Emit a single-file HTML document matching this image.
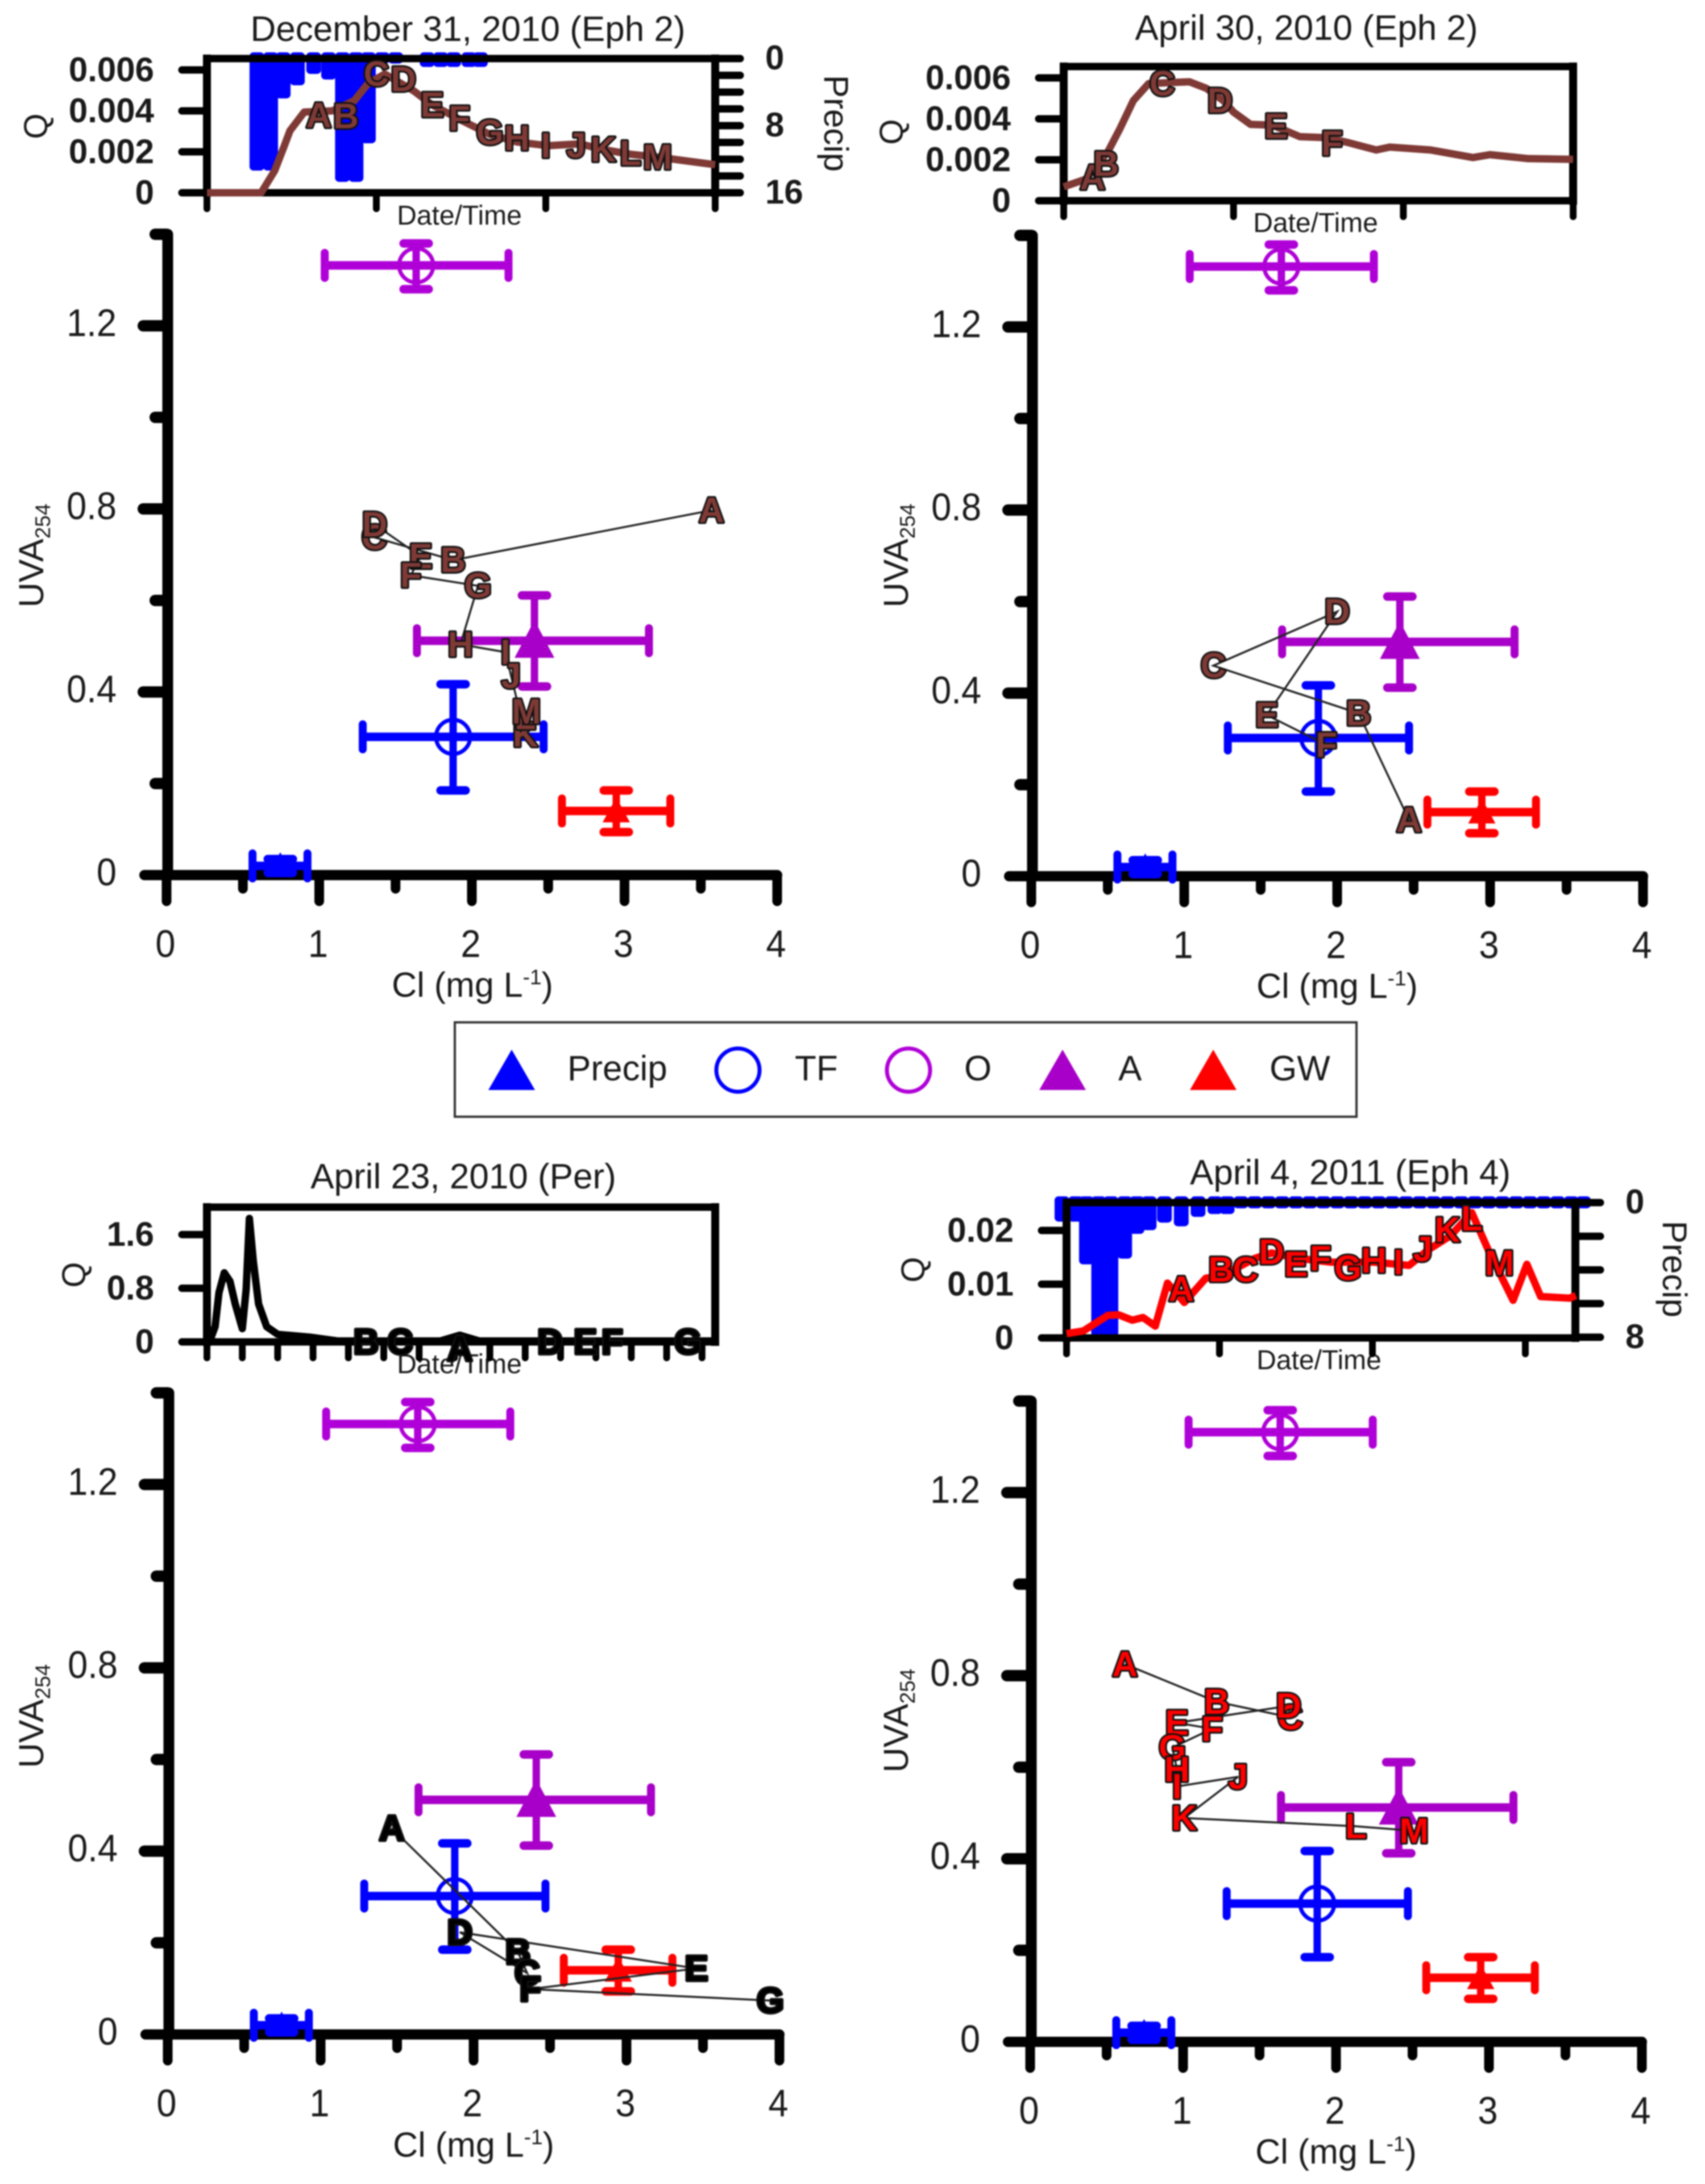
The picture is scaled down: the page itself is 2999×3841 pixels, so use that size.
<!DOCTYPE html>
<html lang="en">
<head>
<meta charset="utf-8">
<title>UVA254 vs Cl hysteresis panels</title>
<style>
html,body{margin:0;padding:0;background:#fff;}
svg{display:block;filter:blur(1.3px);}
text{font-family:"Liberation Sans",sans-serif;fill:#1a1a1a;}
</style>
</head>
<body>
<svg id="chart" xmlns="http://www.w3.org/2000/svg" width="2999" height="3841" viewBox="0 0 2999 3841">
<rect x="0" y="0" width="2999" height="3841" fill="#fff"/>

<text x="823" y="72" font-size="62" text-anchor="middle">December 31, 2010 (Eph 2)</text>
<text x="2298" y="70" font-size="62" text-anchor="middle">April 30, 2010 (Eph 2)</text>
<text x="815" y="2090" font-size="62" text-anchor="middle">April 23, 2010 (Per)</text>
<text x="2375" y="2083" font-size="62" text-anchor="middle">April 4, 2011 (Eph 4)</text>

<text x="808" y="395" font-size="48" text-anchor="middle">Date/Time</text>
<text x="2314" y="408" font-size="48" text-anchor="middle">Date/Time</text>
<text x="808" y="2415" font-size="48" text-anchor="middle">Date/Time</text>
<text x="2320" y="2408" font-size="48" text-anchor="middle">Date/Time</text>

<text transform="translate(83 222) rotate(-90)" font-size="58" text-anchor="middle">Q</text>
<text transform="translate(1588 232) rotate(-90)" font-size="58" text-anchor="middle">Q</text>
<text transform="translate(150 2242) rotate(-90)" font-size="58" text-anchor="middle">Q</text>
<text transform="translate(1626 2233) rotate(-90)" font-size="58" text-anchor="middle">Q</text>

<text transform="translate(1450 217) rotate(90)" font-size="60" text-anchor="middle">Precip</text>
<text transform="translate(2925 2232) rotate(90)" font-size="60" text-anchor="middle">Precip</text>

<text transform="translate(76 977) rotate(-90)" font-size="61" text-anchor="middle">UVA<tspan font-size="37" dy="12">254</tspan></text>
<text transform="translate(1597 977) rotate(-90)" font-size="61" text-anchor="middle">UVA<tspan font-size="37" dy="12">254</tspan></text>
<text transform="translate(76 3018) rotate(-90)" font-size="61" text-anchor="middle">UVA<tspan font-size="37" dy="12">254</tspan></text>
<text transform="translate(1597 3026) rotate(-90)" font-size="61" text-anchor="middle">UVA<tspan font-size="37" dy="12">254</tspan></text>

<text x="831" y="1753" font-size="61" text-anchor="middle">Cl (mg L<tspan font-size="37" dy="-22">-1</tspan><tspan dy="22">)</tspan></text>
<text x="2352" y="1755" font-size="61" text-anchor="middle">Cl (mg L<tspan font-size="37" dy="-22">-1</tspan><tspan dy="22">)</tspan></text>
<text x="833" y="3793" font-size="61" text-anchor="middle">Cl (mg L<tspan font-size="37" dy="-22">-1</tspan><tspan dy="22">)</tspan></text>
<text x="2350" y="3805" font-size="61" text-anchor="middle">Cl (mg L<tspan font-size="37" dy="-22">-1</tspan><tspan dy="22">)</tspan></text>

<g>
  <rect x="800" y="1798" width="1586" height="166" fill="#fff" stroke="#333" stroke-width="4"/>
  <polygon points="900,1846 941,1917 859,1917" fill="#0000ff"/>
  <text x="998" y="1900" font-size="62">Precip</text>
  <circle cx="1298" cy="1882" r="38" fill="none" stroke="#0000ff" stroke-width="7"/>
  <text x="1398" y="1900" font-size="62">TF</text>
  <circle cx="1598" cy="1882" r="38" fill="none" stroke="#b000d8" stroke-width="7"/>
  <text x="1696" y="1900" font-size="62">O</text>
  <polygon points="1869,1846 1910,1917 1828,1917" fill="#a800c8"/>
  <text x="1967" y="1900" font-size="62">A</text>
  <polygon points="2134,1846 2175,1917 2093,1917" fill="#ff0000"/>
  <text x="2233" y="1900" font-size="62">GW</text>
</g>
<g id="plots"></g>
</svg>

<script>
// End-member data (shared by all scatter panels)
const endNames   = ['precip','tf','o','a','gw'];
const endX       = [0.745, 1.877, 1.635, 2.41, 2.946];
const endXLow    = [0.563, 1.285, 1.036, 1.64, 2.59];
const endXHigh   = [0.923, 2.47, 2.24, 3.16, 3.30];
const endY       = [0.02, 0.302, 1.332, 0.512, 0.14];
const endYLow    = [0.005, 0.185, 1.28, 0.412, 0.094];
const endYHigh   = [0.035, 0.417, 1.38, 0.611, 0.185];

// Axis ticks of the scatter panels
const mainXMajor = [0,1,2,3,4];
const mainXMinor = [0.5,1.5,2.5,3.5];
const mainYMajor = [0,0.4,0.8,1.2];
const mainYMinor = [0.2,0.6,1.0,1.4];
const mainYLabels = ['0','0.4','0.8','1.2'];

// Trajectories (Cl, UVA254)
const letters = ['A','B','C','D','E','F','G','H','I','J','K','L','M'];
const tlCl  = [3.57,1.877,1.36,1.363,1.665,1.60,2.04,1.925,2.22,2.257,2.35,2.35,2.357];
const tlUva = [0.797,0.688,0.738,0.766,0.696,0.655,0.632,0.504,0.487,0.435,0.307,0.345,0.357];
const trCl  = [2.47,2.14,1.19,2.0,1.54,1.93];
const trUva = [0.123,0.356,0.46,0.578,0.352,0.287];
const blCl  = [1.465,2.29,2.35,1.91,3.457,2.37,3.94];
const blUva = [0.45,0.18,0.134,0.223,0.144,0.099,0.074];
const brCl  = [0.62,1.22,1.70,1.69,0.96,1.19,0.93,0.96,0.96,1.36,1.007,2.13,2.51];
const brUva = [0.825,0.743,0.709,0.734,0.697,0.684,0.643,0.595,0.558,0.579,0.489,0.471,0.461];

// Inset hydrographs: time, discharge
const tlTime = [0,0.32,0.40,0.456,0.49,0.574,0.74,0.87,0.95,1.05,1.22,1.33,1.49,1.67,1.83,2.01,2.20,2.34,2.50,2.66,3.0];
const tlQ    = [0,0,0.00108,0.00228,0.00303,0.00394,0.0040,0.0045,0.00533,0.0058,0.00498,0.00429,0.00359,0.00285,0.00248,0.0023,0.00239,0.00211,0.00188,0.00174,0.00137];
const tlLabelTime = [0.66,0.82,1.0,1.16,1.33,1.49,1.67,1.83,2.0,2.18,2.34,2.5,2.66];
const tlLabelQ    = [0.00378,0.00373,0.00581,0.00554,0.00429,0.00364,0.00294,0.00267,0.0023,0.0023,0.00211,0.00193,0.00174];
const tlRainTime  = [0.295,0.376,0.45,0.534,0.63,0.718,0.80,0.88,0.953,1.034,1.114,1.30,1.38,1.456,1.547,1.614];
const tlRain      = [13.36,13.36,4.75,3.19,1.83,2.5,14.7,14.7,10.1,0.6,0.6,1.0,1.0,1.0,1.0,1.0];

const trTime = [0,0.13,0.26,0.33,0.41,0.50,0.62,0.74,0.84,0.94,1.0,1.10,1.23,1.39,1.55,1.67,1.84,1.92,2.16,2.41,2.51,2.73,3.0];
const trQ    = [0.00068,0.00105,0.00239,0.0035,0.00489,0.00572,0.00577,0.00581,0.00549,0.00489,0.00433,0.00373,0.00369,0.00313,0.00308,0.00285,0.00248,0.00262,0.00248,0.00211,0.00225,0.00206,0.00202];
const trLabelTime = [0.17,0.25,0.58,0.92,1.25,1.58];
const trLabelQ    = [0.00114,0.00179,0.00572,0.00489,0.00364,0.00281];

const blTime = [0.08,0.23,0.34,0.49,0.65,0.8,1.0,1.11,1.2,1.31,1.46,1.69,2,2.92,3.69,6.6,7.15,7.7,14.38];
const blQ    = [0.014,0.226,0.735,1.03,0.905,0.565,0.198,0.79,1.84,1.21,0.565,0.226,0.113,0.07,0.014,0.014,0.1,0.014,0.014];
const blLabelTime = [7.15,4.5,5.46,9.7,10.7,11.46,13.6];
const blLabelQ    = [-0.1,0,0,0,0,0,0];

const brTime = [0,0.11,0.27,0.34,0.43,0.50,0.58,0.66,0.77,0.91,1.02,1.23,1.34,1.52,1.73,2.01,2.24,2.37,2.51,2.65,2.76,2.92,3.01,3.10,3.29,3.33];
const brQ    = [0.0008,0.0013,0.0042,0.0043,0.0033,0.0038,0.0022,0.0102,0.0066,0.0111,0.0116,0.0148,0.0158,0.0148,0.0141,0.0141,0.0135,0.0165,0.019,0.0233,0.0162,0.007,0.0137,0.0077,0.0074,0.0079];
const brLabelTime = [0.75,1.01,1.17,1.34,1.50,1.66,1.84,2.01,2.17,2.33,2.49,2.65,2.83];
const brLabelQ    = [0.0091,0.0127,0.0127,0.016,0.0137,0.0148,0.013,0.0144,0.0141,0.0165,0.0201,0.0222,0.0139];
const brRainTime  = [-0.03,0.06,0.13,0.21,0.29,0.38,0.46,0.54,0.64,0.75,0.86,0.97,1.05,1.14,1.23,1.32,1.41,1.50,1.59,1.68,1.77,1.86,1.95,2.04,2.13,2.22,2.31,2.40,2.49,2.58,2.67,2.76,2.85,2.94,3.03,3.12,3.21,3.30,3.38];
const brRain      = [1.13,1.13,3.67,7.97,7.97,3.33,1.86,1.64,1.19,1.41,0.85,0.68,0.68,0.34,0.34,0.34,0.34,0.34,0.34,0.34,0.34,0.34,0.34,0.34,0.34,0.34,0.34,0.34,0.34,0.34,0.34,0.34,0.34,0.34,0.34,0.34,0.34,0.34,0.34];

// Inset axis ticks
const tlQTicks = [0,0.002,0.004,0.006];
const tlQLabels = ['0','0.002','0.004','0.006'];
const blQTicks = [0,0.8,1.6];
const blQLabels = ['0','0.8','1.6'];
const brQTicks = [0,0.01,0.02];
const brQLabels = ['0','0.01','0.02'];
const dailyTicks = [0,1,2,3];
const blTimeTicks = [0,1,2,3,4,5,6,7,8,9,10,11,12,13,14];
const tlRainTicks = [0,2,4,6,8,10,12,14,16];
const tlRainLabelAt = [0,8,16];
const brRainTicks = [0,2,4,6,8];
const brRainLabelAt = [0,8];

const COLORS = {precip:'#0000ff',tf:'#0000ff',o:'#b000d8',a:'#a800c8',gw:'#ff0000'};
const root = document.getElementById('plots');
const NS = 'http://www.w3.org/2000/svg';

function mk(parent, tag, name, attrs, txt) {
  const node = document.createElementNS(NS, tag);
  
  
  for (const k in attrs) node.setAttribute(k, attrs[k]);
  if (txt !== undefined) node.textContent = txt;
  parent.appendChild(node);
  return node;
}
function line(parent, name, x1, y1, x2, y2, color, w, cap) {
  return mk(parent, 'line', name, {x1:x1, y1:y1, x2:x2, y2:y2, stroke:color, 'stroke-width':w, 'stroke-linecap':cap || 'round'});
}

function drawScatter(cfg) {
  const g = mk(root, 'g', 'scatter-' + cfg.id, {});
  const X = v => cfg.x0 + v * cfg.sx;
  const Y = v => cfg.y0 - v * cfg.sy;

  // axes
  line(g, 'y-axis-line', cfg.x0 + 2, Y(1.4), cfg.x0 + 2, cfg.y0, '#000', 19);
  line(g, 'x-axis-line', X(0) - 39, cfg.y0, X(4), cfg.y0, '#000', 18);
  mainXMajor.forEach(v => { line(g, 'x-tick-major', X(v), cfg.y0, X(v), cfg.y0 + 46, '#000', 17);
    mk(g, 'text', 'x-tick-label', {transform:'translate(' + (X(v) - 2) + ' ' + (cfg.y0 + 144) + ') scale(0.93 1)', 'font-size':68, 'text-anchor':'middle'}, String(v)); });
  mainXMinor.forEach(v => line(g, 'x-tick-minor', X(v), cfg.y0, X(v), cfg.y0 + 24, '#000', 17));
  mainYMajor.forEach((v, i) => { if (v > 0) line(g, 'y-tick-major', cfg.x0 - 41, Y(v), cfg.x0, Y(v), '#000', 20);
    mk(g, 'text', 'y-tick-label', {transform:'translate(' + (cfg.x0 - 88) + ' ' + (Y(v) + 18) + ') scale(0.93 1)', 'font-size':68, 'text-anchor':'end'}, mainYLabels[i]); });
  mainYMinor.forEach(v => line(g, 'y-tick-minor', cfg.x0 - 20, Y(v), cfg.x0, Y(v), '#000', 20));

  // end-members
  endNames.forEach((n, i) => {
    const c = COLORS[n];
    const e = mk(g, 'g', 'endmember-' + n, {});
    line(e, 'error-bar-x', X(endXLow[i]), Y(endY[i]), X(endXHigh[i]), Y(endY[i]), c, 15, 'butt');
    line(e, 'error-bar-y', X(endX[i]), Y(endYLow[i]), X(endX[i]), Y(endYHigh[i]), c, 13, 'butt');
    line(e, 'error-cap-left', X(endXLow[i]), Y(endY[i]) - 22, X(endXLow[i]), Y(endY[i]) + 22, c, 14);
    line(e, 'error-cap-right', X(endXHigh[i]), Y(endY[i]) - 22, X(endXHigh[i]), Y(endY[i]) + 22, c, 14);
    line(e, 'error-cap-low', X(endX[i]) - 22, Y(endYLow[i]), X(endX[i]) + 22, Y(endYLow[i]), c, 15);
    line(e, 'error-cap-high', X(endX[i]) - 22, Y(endYHigh[i]), X(endX[i]) + 22, Y(endYHigh[i]), c, 15);
    const cx = X(endX[i]), cy = Y(endY[i]);
    if (n === 'tf' || n === 'o') {
      mk(e, 'circle', 'marker-' + n, {cx:cx, cy:cy, r:30, fill:'none', stroke:c, 'stroke-width':7});
    } else {
      const half = n === 'a' ? 35 : 24, up = n === 'a' ? 36 : 24, dn = n === 'a' ? 30 : 20;
      mk(e, 'polygon', 'marker-' + n, {points:(cx)+','+(cy-up)+' '+(cx+half)+','+(cy+dn)+' '+(cx-half)+','+(cy+dn), fill:c});
    }
  });

  // trajectory
  const pts = cfg.cl.map((v, i) => X(v) + ',' + Y(cfg.uva[i])).join(' ');
  mk(g, 'polyline', 'trajectory-line', {points:pts, fill:'none', stroke:'#222', 'stroke-width':3.5});
  cfg.cl.forEach((v, i) => {
    mk(g, 'text', 'trajectory-point-' + letters[i], {x:X(v), y:Y(cfg.uva[i]) + 21, 'font-size':62, 'font-weight':'bold', 'text-anchor':'middle',
      style:'fill:' + cfg.color + ';stroke:#111;stroke-width:6;stroke-linejoin:round;paint-order:stroke'}, letters[i]);
  });
}

function drawInset(cfg) {
  const g = mk(root, 'g', 'hydrograph-' + cfg.id, {});
  const X = t => cfg.left + t * cfg.tx;
  const Y = q => cfg.bottom - q * cfg.qy;
  const R = p => cfg.top + p * cfg.py;

  // precip bars (behind the frame)
  if (cfg.rainTime) cfg.rainTime.forEach((t, i) => {
    mk(g, 'rect', 'precip-bar', {x:X(t) - 13, y:cfg.top - 11, width:26, height:R(cfg.rain[i]) - cfg.top + 11, rx:7, fill:'#0000ff'});
  });

  // frame
  line(g, 'frame-top', cfg.left, cfg.top, cfg.right, cfg.top, '#000', 13, 'square');
  line(g, 'frame-bottom', cfg.left, cfg.bottom, cfg.right, cfg.bottom, '#000', 13, 'square');
  line(g, 'frame-left', cfg.left, cfg.top, cfg.left, cfg.bottom, '#000', 14, 'square');
  line(g, 'frame-right', cfg.right, cfg.top, cfg.right, cfg.bottom, '#000', 14, 'square');

  cfg.qTicks.forEach((q, i) => {
    line(g, 'q-tick', cfg.left - 44, Y(q), cfg.left, Y(q), '#000', 13);
    mk(g, 'text', 'q-tick-label', {x:cfg.left - 93, y:Y(q) + 20, 'font-size':60, 'font-weight':'bold', 'text-anchor':'end'}, cfg.qLabels[i]);
  });
  cfg.timeTicks.forEach(t => line(g, 'time-tick', X(t), cfg.bottom, X(t), cfg.bottom + 28, '#000', 12));
  if (cfg.rainTicks) {
    cfg.rainTicks.forEach(p => line(g, 'precip-tick', cfg.right, R(p), cfg.right + 44, R(p), '#000', 13));
    cfg.rainLabels.forEach(p => mk(g, 'text', 'precip-tick-label', {x:cfg.right + 88, y:R(p) + 19, 'font-size':60, 'font-weight':'bold'}, String(p)));
  }

  // discharge line
  const pts = cfg.time.map((t, i) => X(t) + ',' + Y(cfg.q[i])).join(' ');
  mk(g, 'polyline', 'discharge-line', {points:pts, fill:'none', stroke:cfg.color, 'stroke-width':13, 'stroke-linejoin':'round'});
  cfg.labelTime.forEach((t, i) => {
    mk(g, 'text', 'sample-label-' + letters[i], {x:X(t), y:Y(cfg.labelQ[i]) + 21, 'font-size':62, 'font-weight':'bold', 'text-anchor':'middle',
      style:'fill:' + cfg.color + ';stroke:#111;stroke-width:6;stroke-linejoin:round;paint-order:stroke'}, letters[i]);
  });
}

const BROWN = '#7f3a36';

drawInset({id:'dec-2010', left:364, right:1258, top:103, bottom:339, tx:298, qy:36000, py:14.75, color:BROWN,
  time:tlTime, q:tlQ, labelTime:tlLabelTime, labelQ:tlLabelQ, rainTime:tlRainTime, rain:tlRain,
  qTicks:tlQTicks, qLabels:tlQLabels, timeTicks:dailyTicks, rainTicks:tlRainTicks, rainLabels:tlRainLabelAt});
drawInset({id:'apr-30-2010', left:1871, right:2767, top:117, bottom:353, tx:298.7, qy:36000, py:0, color:BROWN,
  time:trTime, q:trQ, labelTime:trLabelTime, labelQ:trLabelQ,
  qTicks:tlQTicks, qLabels:tlQLabels, timeTicks:dailyTicks});
drawInset({id:'apr-23-2010', left:364, right:1258, top:2123, bottom:2360, tx:62.2, qy:118, py:0, color:'#000',
  time:blTime, q:blQ, labelTime:blLabelTime, labelQ:blLabelQ,
  qTicks:blQTicks, qLabels:blQLabels, timeTicks:blTimeTicks});
drawInset({id:'apr-4-2011', left:1876, right:2771, top:2115, bottom:2353, tx:269, qy:9450, py:29.6, color:'#ff0000',
  time:brTime, q:brQ, labelTime:brLabelTime, labelQ:brLabelQ, rainTime:brRainTime, rain:brRain,
  qTicks:brQTicks, qLabels:brQLabels, timeTicks:dailyTicks, rainTicks:brRainTicks, rainLabels:brRainLabelAt});

drawScatter({id:'dec-2010', x0:293, y0:1539, sx:268.5, sy:805, cl:tlCl, uva:tlUva, color:BROWN});
drawScatter({id:'apr-30-2010', x0:1814, y0:1541, sx:269, sy:805, cl:trCl, uva:trUva, color:BROWN});
drawScatter({id:'apr-23-2010', x0:295, y0:3578, sx:269, sy:806, cl:blCl, uva:blUva, color:'#000'});
drawScatter({id:'apr-4-2011', x0:1812, y0:3591, sx:269, sy:805, cl:brCl, uva:brUva, color:'#ff0000'});
</script>
</body>
</html>
